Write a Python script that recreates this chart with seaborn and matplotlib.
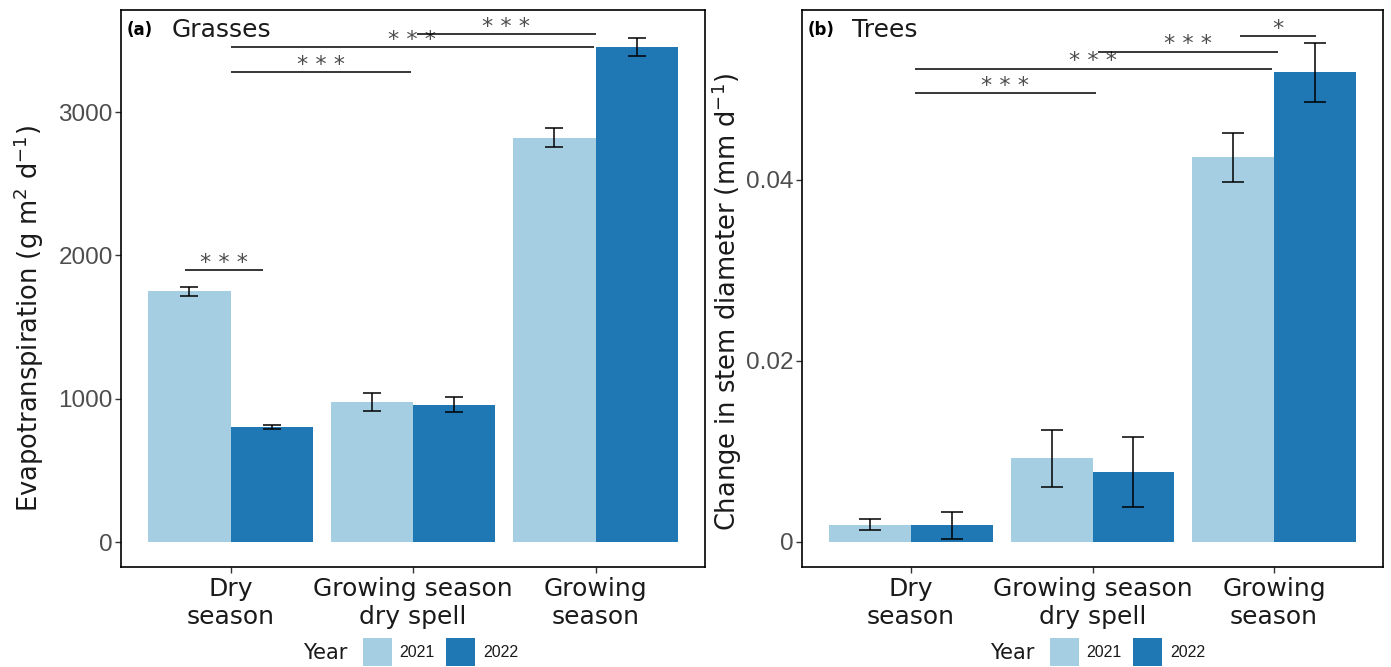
import matplotlib
matplotlib.use("Agg")
import matplotlib.pyplot as plt
import numpy as np
import pandas as pd
import seaborn as sns
from matplotlib.patches import Patch

# ---- data -------------------------------------------------------------
seasons = ["Dry\nseason", "Growing season\ndry spell", "Growing\nseason"]
years = ["2021", "2022"]

# Grasses: evapotranspiration (mean and standard error)
grass_2021 = [1749, 977, 2821]
grass_2021_se = [30, 62, 66]
grass_2022 = [802, 958, 3452]
grass_2022_se = [15, 53, 62]

# Trees: change in stem diameter (mean and standard error)
tree_2021 = [0.0019, 0.0092, 0.0425]
tree_2021_se = [0.0006, 0.0031, 0.0027]
tree_2022 = [0.0018, 0.0077, 0.0519]
tree_2022_se = [0.0015, 0.0039, 0.0033]

# Significance brackets (x in category units, y in data units)
grass_sig_start = [-0.25, 0.0, 0.0, 1.02]
grass_sig_end = [0.18, 0.99, 1.99, 2.0]
grass_sig_y = [1898, 3280, 3454, 3545]
grass_sig_label = ["***", "***", "***", "***"]

tree_sig_start = [0.02, 0.02, 1.03, 1.81]
tree_sig_end = [1.02, 1.99, 2.02, 2.23]
tree_sig_y = [0.0496, 0.0523, 0.0542, 0.0559]
tree_sig_label = ["***", "***", "***", "*"]

palette = {"2021": "#A6CEE3", "2022": "#1F78B4"}

# ---- style ------------------------------------------------------------
sns.set_theme(style="white")
plt.rcParams["font.family"] = ["DejaVu Sans"]
NUM_FONT = "Liberation Sans"


def build_frame(v21, e21, v22, e22):
    rows = []
    for year, vals, errs in (("2021", v21, e21), ("2022", v22, e22)):
        for s, v, e in zip(seasons, vals, errs):
            rows.append({"season": s, "year": year, "value": v, "se": e})
    return pd.DataFrame(rows)


def draw_panel(ax, df, capsize, ylim, yticks, yticklabels, ylabel, label_xy,
               tag, title, sig_start, sig_end, sig_y, sig_label):
    sns.barplot(data=df, x="season", y="value", hue="year", order=seasons,
                hue_order=years, palette=palette, width=0.9, gap=0,
                errorbar=None, legend=False, saturation=1, linewidth=0, ax=ax)
    for year, container in zip(years, ax.containers):
        sub = df[df.year == year].set_index("season").loc[seasons]
        xs = [b.get_x() + b.get_width() / 2 for b in container]
        ax.errorbar(xs, sub["value"].values, yerr=sub["se"].values, fmt="none",
                    ecolor="black", elinewidth=1.1, capsize=capsize,
                    capthick=1.1, zorder=3)
    for x0, x1, y, lab in zip(sig_start, sig_end, sig_y, sig_label):
        ax.plot([x0, x1], [y, y], color="black", lw=1.1,
                solid_capstyle="butt", zorder=3)
        ax.annotate(" ".join(lab), xy=((x0 + x1) / 2, y), xytext=(0, 1.0),
                    textcoords="offset points", ha="center", va="baseline",
                    color="#4D4D4D", fontsize=16)
    ax.set_xlim(-0.6, 2.6)
    ax.set_ylim(*ylim)
    ax.set_yticks(yticks)
    ax.set_yticklabels(yticklabels, fontsize=17.5, color="#4D4D4D",
                       family=NUM_FONT)
    ax.set_xticks(range(len(seasons)))
    ax.set_xticklabels(seasons, fontsize=18, color="#1A1A1A")
    ax.set_xlabel("")
    ax.set_ylabel(ylabel, fontsize=18.5, color="#1A1A1A")
    ax.yaxis.set_label_coords(*label_xy)
    ax.tick_params(axis="both", which="both", bottom=True, left=True,
                   direction="out", length=4, width=1, color="#333333")
    ax.tick_params(axis="y", pad=2)
    ax.tick_params(axis="x", pad=3)
    for sp in ax.spines.values():
        sp.set_visible(True)
        sp.set_color("black")
        sp.set_linewidth(1.2)
    ax.grid(False)
    ax.text(0.009, 0.964, tag, transform=ax.transAxes, fontsize=12,
            fontweight="bold", va="center", ha="left", color="black")
    ax.text(0.087 if tag == "(a)" else 0.086, 0.964, title,
            transform=ax.transAxes, fontsize=18, va="center", ha="left",
            color="#1A1A1A")


def draw_legend(fig, ax, x_year, x_patch):
    fig.text(x_year / 1391, 1 - 653 / 667, "Year", fontsize=15,
             color="#1A1A1A", ha="left", va="center")
    handles = [Patch(facecolor=palette[y], edgecolor="none", label=y)
               for y in years]
    leg = ax.legend(handles=handles, loc="center left",
                    bbox_to_anchor=(x_patch / 1391, 1 - 652 / 667),
                    bbox_transform=fig.transFigure, ncol=2, frameon=False,
                    borderpad=0, borderaxespad=0, handlelength=1.8,
                    handleheight=2.35, handletextpad=0.5, columnspacing=0.7,
                    prop={"family": NUM_FONT, "size": 11.5})
    for t in leg.get_texts():
        t.set_color("#1A1A1A")


fig = plt.figure(figsize=(13.91, 6.67), dpi=100)
ax1 = fig.add_axes([121 / 1391, 1 - 567 / 667, (705 - 121) / 1391, 557 / 667])
ax2 = fig.add_axes([802 / 1391, 1 - 567 / 667, (1383 - 802) / 1391, 557 / 667])

grass = build_frame(grass_2021, grass_2021_se, grass_2022, grass_2022_se)
trees = build_frame(tree_2021, tree_2021_se, tree_2022, tree_2022_se)

draw_panel(ax1, grass, 6.5, (-174, 3712), [0, 1000, 2000, 3000],
           ["0", "1000", "2000", "3000"],
           r"Evapotranspiration (g m$^2$ d$^{-1}$)", (-0.128, 0.447),
           "(a)", "Grasses",
           grass_sig_start, grass_sig_end, grass_sig_y, grass_sig_label)
draw_panel(ax2, trees, 7.9, (-0.0028, 0.0588), [0, 0.02, 0.04],
           ["0", "0.02", "0.04"],
           r"Change in stem diameter (mm d$^{-1}$)", (-0.100, 0.476),
           "(b)", "Trees",
           tree_sig_start, tree_sig_end, tree_sig_y, tree_sig_label)

draw_legend(fig, ax1, 303, 363)
draw_legend(fig, ax2, 990, 1050)

fig.savefig("out.png", dpi=100)
